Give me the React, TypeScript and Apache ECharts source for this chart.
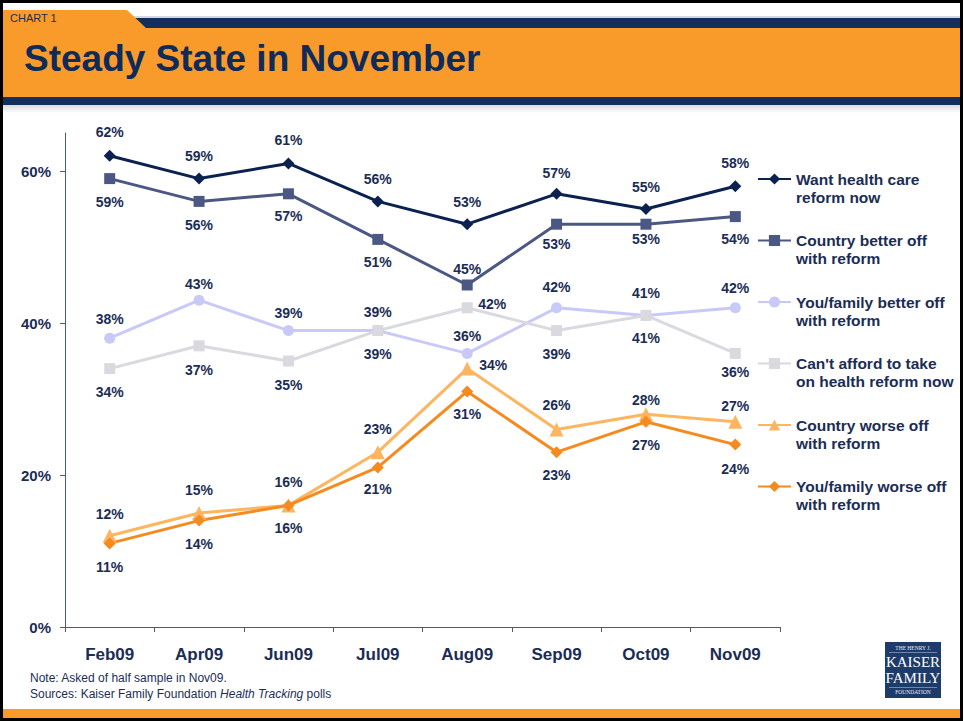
import React, { useEffect, useRef } from "react";
import * as echarts from "echarts";

const categories = ["Feb09", "Apr09", "Jun09", "Jul09", "Aug09", "Sep09", "Oct09", "Nov09"];
const yTicks = [0, 20, 40, 60];

const wantReform = [62, 59, 61, 56, 53, 57, 55, 58];
const countryBetter = [59, 56, 57, 51, 45, 53, 53, 54];
const familyBetter = [38, 43, 39, 39, 36, 42, 41, 42];
const cantAfford = [34, 37, 35, 39, 42, 39, 41, 36];
const countryWorse = [12, 15, 16, 23, 34, 26, 28, 27];
const familyWorse = [11, 14, 16, 21, 31, 23, 27, 24];

// label placement (side of the point and gap)
const wantPos = ["top", "top", "top", "top", "top", "top", "top", "top"];
const wantGap = [11, 10, 10, 9, 9, 8, 9, 10];
const countryBetterPos = ["bottom", "bottom", "bottom", "bottom", "top", "bottom", "bottom", "bottom"];
const countryBetterGap = [11, 11, 10, 10, 3.5, 7.5, 2.5, 10];
const familyBetterPos = ["top", "top", "top", "top", "top", "top", "top", "top"];
const familyBetterGap = [6.5, 3.5, 5.5, 6.5, 4.5, 8.5, 9.5, 7.5];
const cantAffordPos = ["bottom", "bottom", "bottom", "bottom", "right", "bottom", "bottom", "bottom"];
const cantAffordGap = [10.5, 11.5, 11.5, 10.5, 5.5, 10.5, 10.5, 6.5];
const countryWorsePos = ["top", "top", "top", "top", "right", "top", "top", "top"];
const countryWorseGap = [8, 9, 9, 9, 5, 10, 0, 2];
const familyWorsePos = ["bottom", "bottom", "bottom", "bottom", "bottom", "bottom", "bottom", "bottom"];
const familyWorseGap = [11, 10, 10, 9, 10, 10, 10, 11];

const seriesNames = [
  "Want health care\nreform now",
  "Country better off\nwith reform",
  "You/family better off\nwith reform",
  "Can't afford to take\non health reform now",
  "Country worse off\nwith reform",
  "You/family worse off\nwith reform",
];

const NAVY = "#13305c";
const ORANGE = "#f99b2b";
const TEXT = "#1b2d55";
const FONT = "'Liberation Sans', Arial, sans-serif";

function makeSeries(
  name: string,
  values: number[],
  positions: string[],
  gaps: number[],
  color: string,
  symbol: string,
  symbolSize: number
) {
  return {
    name,
    type: "line",
    data: values.map((v, i) => ({
      value: v,
      label: {
        position: positions[i],
        distance: gaps[i],
        offset: positions[i] === "right" ? [0, -4] : [0, 0],
      },
    })),
    symbol,
    symbolSize,
    lineStyle: { color, width: 3 },
    itemStyle: { color },
    label: {
      show: true,
      formatter: "{c}%",
      color: TEXT,
      fontFamily: FONT,
      fontWeight: "bold",
      fontSize: 14,
    },
    emphasis: { disabled: true },
  };
}

export default function App() {
  const ref = useRef<HTMLDivElement>(null);

  useEffect(() => {
    document.body.style.margin = "0";
    if (!ref.current) return;
    const chart = echarts.init(ref.current, undefined, { renderer: "svg" });

    const series = [
      makeSeries(seriesNames[0], wantReform, wantPos, wantGap, "#0b2250", "diamond", 12),
      makeSeries(seriesNames[1], countryBetter, countryBetterPos, countryBetterGap, "#4b5883", "rect", 11),
      makeSeries(seriesNames[2], familyBetter, familyBetterPos, familyBetterGap, "#c9c9f9", "circle", 11),
      makeSeries(seriesNames[3], cantAfford, cantAffordPos, cantAffordGap, "#d9d9df", "rect", 11),
      makeSeries(seriesNames[4], countryWorse, countryWorsePos, countryWorseGap, "#fdb560", "triangle", 14),
      makeSeries(seriesNames[5], familyWorse, familyWorsePos, familyWorseGap, "#f58a1f", "diamond", 12),
    ];

    const option: any = {
      animation: false,
      backgroundColor: "#ffffff",
      textStyle: { fontFamily: FONT },
      grid: { left: 65, right: 184, top: 133, bottom: 94, containLabel: false },
      xAxis: {
        type: "category",
        data: categories,
        boundaryGap: true,
        axisLine: { lineStyle: { color: "#4a5a7c", width: 1 } },
        axisTick: { show: true, length: 5, lineStyle: { color: "#4a5a7c" } },
        axisLabel: {
          color: TEXT,
          fontFamily: FONT,
          fontWeight: "bold",
          fontSize: 17,
          margin: 19,
        },
        splitLine: { show: false },
      },
      yAxis: {
        type: "value",
        min: 0,
        max: 65,
        interval: 20,
        axisLine: { show: true, lineStyle: { color: "#4a5a7c", width: 1 } },
        axisTick: { show: true, length: 5, customValues: yTicks, lineStyle: { color: "#4a5a7c" } },
        axisLabel: {
          customValues: yTicks,
          formatter: (v: number) => v + "%",
          color: TEXT,
          fontFamily: FONT,
          fontWeight: "bold",
          fontSize: 15,
          margin: 14,
        },
        splitLine: { show: false },
      },
      legend: {
        orient: "vertical",
        left: 757,
        top: 152,
        padding: 0,
        itemGap: 7.5,
        itemWidth: 33,
        itemHeight: 14,
        textGap: 2,
        selectedMode: false,
        data: seriesNames,
        formatter: (name: string) => "\n" + name,
        textStyle: {
          color: TEXT,
          fontFamily: FONT,
          fontWeight: "bold",
          fontSize: 15.5,
          lineHeight: 18,
        },
      },
      graphic: [
        { type: "rect", shape: { x: 130, y: 16, width: 832, height: 2 }, style: { fill: "#d5d9e2" }, silent: true },
        { type: "rect", shape: { x: 130, y: 18, width: 832, height: 10 }, style: { fill: NAVY }, silent: true },
        {
          type: "polygon",
          shape: { points: [[3, 10], [127, 10], [146, 28], [3, 28]] },
          style: { fill: ORANGE },
          silent: true,
        },
        { type: "rect", shape: { x: 3, y: 28, width: 958, height: 69 }, style: { fill: ORANGE }, silent: true },
        { type: "rect", shape: { x: 3, y: 97, width: 958, height: 8 }, style: { fill: NAVY }, silent: true },
        {
          type: "rect",
          shape: { x: 3, y: 105, width: 958, height: 8 },
          style: {
            fill: new echarts.graphic.LinearGradient(0, 0, 0, 1, [
              { offset: 0, color: "#d9dbe0" },
              { offset: 1, color: "#ffffff" },
            ]),
          },
          silent: true,
        },
        {
          type: "text",
          left: 10,
          top: 12,
          style: { text: "CHART 1", fill: TEXT, font: `11px ${FONT}` },
          silent: true,
        },
        {
          type: "text",
          left: 24,
          top: 40,
          style: { text: "Steady State in November", fill: "#0e2b5a", font: `bold 37px ${FONT}` },
          silent: true,
        },
        {
          type: "text",
          left: 30,
          top: 672,
          style: { text: "Note: Asked of half sample in Nov09.", fill: TEXT, font: `12px ${FONT}` },
          silent: true,
        },
        {
          type: "text",
          left: 30,
          top: 688,
          style: {
            text: "Sources: Kaiser Family Foundation {i|Health Tracking} polls",
            fill: TEXT,
            font: `12px ${FONT}`,
            rich: { i: { fontStyle: "italic", fontSize: 12, fontFamily: FONT, fill: TEXT } },
          },
          silent: true,
        },
        { type: "rect", shape: { x: 885, y: 642, width: 56, height: 56 }, style: { fill: "#1d3c6c" }, silent: true },
        {
          type: "text",
          x: 913,
          y: 648,
          style: { text: "THE HENRY J.", fill: "#e8ecf4", font: `5.5px 'Liberation Serif', serif`, align: "center", verticalAlign: "middle" },
          silent: true,
        },
        { type: "rect", shape: { x: 889, y: 652, width: 48, height: 0.6 }, style: { fill: "#c8d0e0" }, silent: true },
        {
          type: "text",
          x: 913,
          y: 662,
          style: { text: "KAISER", fill: "#ffffff", font: `15px 'Liberation Serif', serif`, align: "center", verticalAlign: "middle" },
          silent: true,
        },
        {
          type: "text",
          x: 913,
          y: 678,
          style: { text: "FAMILY", fill: "#ffffff", font: `15px 'Liberation Serif', serif`, align: "center", verticalAlign: "middle" },
          silent: true,
        },
        { type: "rect", shape: { x: 889, y: 687, width: 48, height: 0.6 }, style: { fill: "#c8d0e0" }, silent: true },
        {
          type: "text",
          x: 913,
          y: 692,
          style: { text: "FOUNDATION", fill: "#e8ecf4", font: `5.5px 'Liberation Serif', serif`, align: "center", verticalAlign: "middle" },
          silent: true,
        },
        { type: "rect", shape: { x: 3, y: 709, width: 958, height: 10 }, style: { fill: ORANGE }, silent: true },
        {
          type: "rect",
          shape: { x: 1.5, y: 1.5, width: 960, height: 718 },
          style: { fill: "none", stroke: "#000000", lineWidth: 3 },
          silent: true,
        },
      ],
      series,
    };

    chart.setOption(option);
    return () => chart.dispose();
  }, []);

  return <div ref={ref} style={{ width: 964, height: 721 }} />;
}
